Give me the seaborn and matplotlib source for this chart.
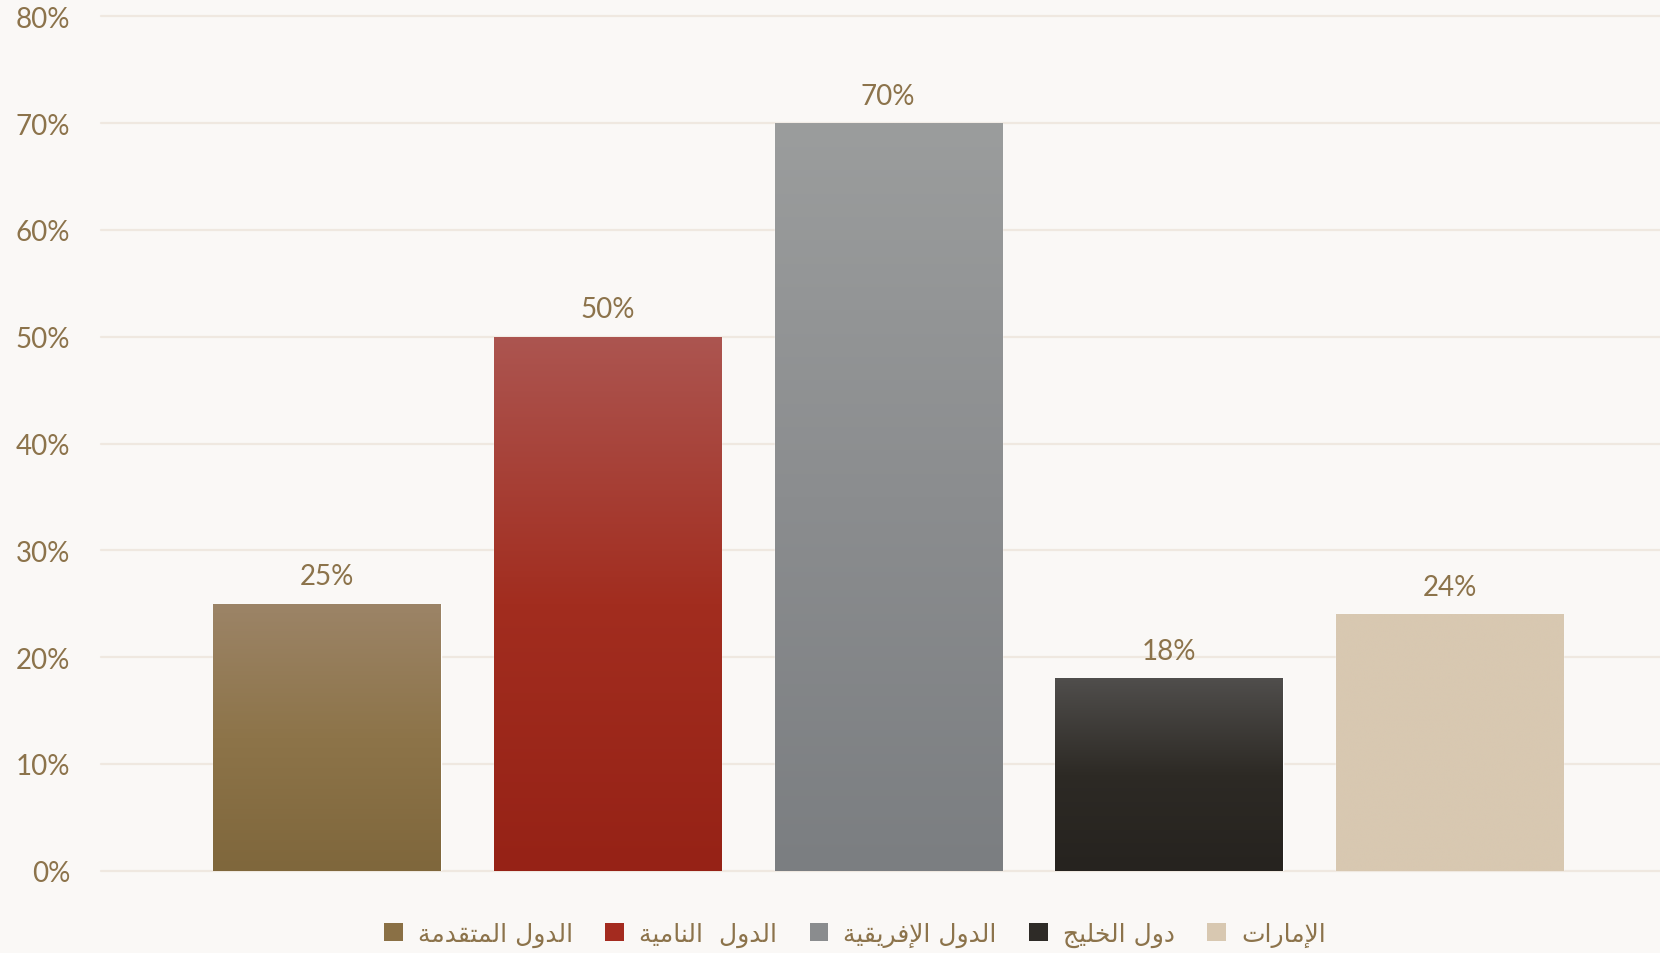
import numpy as np
import matplotlib
matplotlib.use("Agg")
import matplotlib.pyplot as plt
import seaborn as sns
from matplotlib.patches import Patch
from matplotlib.colors import to_rgb

# ---------------- data ----------------
categories = ["الدول المتقدمة", "الدول  النامية", "الدول الإفريقية", "دول الخليج", "الإمارات"]
values = [0.25, 0.50, 0.70, 0.18, 0.24]
y_ticks = [0.0, 0.1, 0.2, 0.3, 0.4, 0.5, 0.6, 0.7, 0.8]
y_tick_labels = ["0%", "10%", "20%", "30%", "40%", "50%", "60%", "70%", "80%"]

# ---------------- style ----------------
top_colors = ["#9C8467", "#AC5550", "#9B9D9D", "#504E4C", "#D8C8B1"]
mid_colors = ["#8D7449", "#A22D1F", "#8B8D8F", "#2D2A25", "#D8C8B1"]
bottom_colors = ["#7F673C", "#962216", "#7B7E81", "#26231F", "#D8C8B1"]
legend_colors = ["#8A7045", "#A42B1F", "#8A8C8E", "#2E2B27", "#D8C8B1"]
text_color = "#8C734B"
bg_color = "#FAF8F6"
grid_color = "#EFE8E0"

# Arabic shaping (presentation forms) -- matplotlib has no complex text layout
FORMS = {
    "\u0627": ("\uFE8D", "\uFE8E", None, None),
    "\u0625": ("\uFE87", "\uFE88", None, None),
    "\u0628": ("\uFE8F", "\uFE90", "\uFE91", "\uFE92"),
    "\u0629": ("\uFE93", "\uFE94", None, None),
    "\u062A": ("\uFE95", "\uFE96", "\uFE97", "\uFE98"),
    "\u062C": ("\uFE9D", "\uFE9E", "\uFE9F", "\uFEA0"),
    "\u062E": ("\uFEA5", "\uFEA6", "\uFEA7", "\uFEA8"),
    "\u062F": ("\uFEA9", "\uFEAA", None, None),
    "\u0631": ("\uFEAD", "\uFEAE", None, None),
    "\u0641": ("\uFED1", "\uFED2", "\uFED3", "\uFED4"),
    "\u0642": ("\uFED5", "\uFED6", "\uFED7", "\uFED8"),
    "\u0644": ("\uFEDD", "\uFEDE", "\uFEDF", "\uFEE0"),
    "\u0645": ("\uFEE1", "\uFEE2", "\uFEE3", "\uFEE4"),
    "\u0646": ("\uFEE5", "\uFEE6", "\uFEE7", "\uFEE8"),
    "\u0648": ("\uFEED", "\uFEEE", None, None),
    "\u064A": ("\uFEF1", "\uFEF2", "\uFEF3", "\uFEF4"),
}
LAM_ALEF = {"\u0627": ("\uFEFB", "\uFEFC"), "\u0625": ("\uFEF9", "\uFEFA")}


def shape_ar(text):
    chars = list(text)
    n = len(chars)

    def dual(c):
        return c in FORMS and FORMS[c][2] is not None

    out = []
    i = 0
    while i < n:
        c = chars[i]
        if c not in FORMS:
            out.append(c)
            i += 1
            continue
        prev_join = i > 0 and dual(chars[i - 1])
        if c == "\u0644" and i + 1 < n and chars[i + 1] in LAM_ALEF:
            iso, fin = LAM_ALEF[chars[i + 1]]
            out.append(fin if prev_join else iso)
            i += 2
            continue
        next_join = dual(c) and i + 1 < n and chars[i + 1] in FORMS
        iso, fin, ini, med = FORMS[c]
        if prev_join and next_join:
            out.append(med)
        elif prev_join:
            out.append(fin)
        elif next_join:
            out.append(ini)
        else:
            out.append(iso)
        i += 1
    return "".join(reversed(out))


sns.set_theme(style="white")
plt.rcParams["font.family"] = ["Lato", "DejaVu Sans"]

fig = plt.figure(figsize=(16.6, 9.54), dpi=100, facecolor=bg_color)
ax = fig.add_axes([101 / 1660, 1 - 871.7 / 954, 1 - 101 / 1660, (871.7 - 17.3) / 954])
ax.set_facecolor(bg_color)

sns.barplot(x=categories, y=values, hue=categories, order=categories,
            hue_order=categories, palette=legend_colors, width=0.81,
            legend=False, ax=ax, saturation=1)

# vertical gradients (3 stops) clipped to each bar
t = np.linspace(0, 1, 512)
for patch, ct, cm, cb in zip(ax.patches, top_colors, mid_colors, bottom_colors):
    x0, y0 = patch.get_x(), patch.get_y()
    w, h = patch.get_width(), patch.get_height()
    grad = np.stack([np.interp(t, [0, 0.5, 1], [to_rgb(ct)[k], to_rgb(cm)[k], to_rgb(cb)[k]])
                     for k in range(3)], axis=-1)[:, None, :]
    im = ax.imshow(grad, extent=[x0, x0 + w, y0, y0 + h], aspect="auto",
                   origin="upper", zorder=patch.get_zorder() + 0.1,
                   interpolation="bilinear")
    im.set_clip_path(patch)

# data labels
for patch, v in zip(ax.patches, values):
    ax.annotate(f"{v:.0%}", (patch.get_x() + patch.get_width() / 2, patch.get_height()),
                xytext=(0, 14), textcoords="offset points", ha="center",
                va="baseline", fontsize=20, color=text_color)

ax.set_xlim(-0.805, 4.75)
ax.set_ylim(0, 0.8)
ax.set_yticks(y_ticks)
ax.set_yticklabels(y_tick_labels, fontsize=20, color=text_color)
ax.set_xticks([])
ax.set_xlabel("")
ax.set_ylabel("")
ax.tick_params(axis="y", length=0, pad=22)
ax.yaxis.grid(True, color=grid_color, linewidth=1.6)
for gl in ax.get_ygridlines():
    gl.set_clip_on(False)
ax.set_axisbelow(True)
for s in ax.spines.values():
    s.set_visible(False)

handles = [Patch(facecolor=c, edgecolor="none") for c in legend_colors]
labels = [shape_ar(c) for c in categories]
fig.legend(handles, labels, loc="center", bbox_to_anchor=(855 / 1660, 1 - 935 / 954),
           ncol=5, frameon=False, handlelength=0.75, handleheight=0.75,
           handletextpad=0.6, columnspacing=1.3, labelcolor=text_color,
           prop={"family": ["DejaVu Sans"], "size": 18})

fig.savefig("out.png", dpi=100, facecolor=bg_color)
